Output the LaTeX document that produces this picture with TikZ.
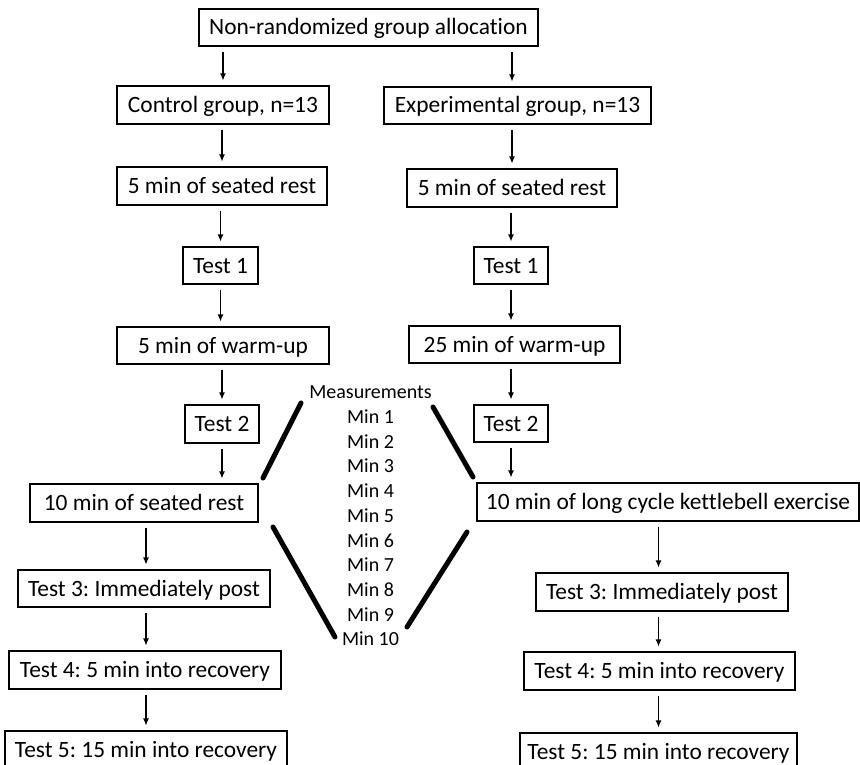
\documentclass[tikz,border=0pt]{standalone}
\usepackage{fontspec}
\setmainfont{Carlito}[Ligatures=NoCommon]
\frenchspacing
\usetikzlibrary{arrows.meta}
\begin{document}
\frenchspacing
\begin{tikzpicture}[x=1pt,y=-1pt,
  box/.style={draw, line width=1.1pt, inner sep=0pt, text height=15pt, text depth=0pt,
    font=\fontsize{23.4}{28}\selectfont\frenchspacing},
  arr/.style={-{Latex[length=7pt,width=6pt]}, line width=1.1pt, shorten <=5pt, shorten >=5pt},
  bar/.style={line width=5pt, line cap=round},
  meas/.style={align=center, inner sep=0pt, font=\fontsize{20}{24.7}\selectfont}
]
\useasboundingbox (0,0) rectangle (860,765);
% left column
\node[box, minimum width=339pt, minimum height=37pt] (top) at (368.5,27.5) {Non-randomized group allocation};
\node[box, minimum width=212pt, minimum height=38pt] (ctrl) at (223,105) {Control group, n=13};
\node[box, minimum width=210pt, minimum height=38pt] (restL) at (222,186) {5 min of seated rest};
\node[box, minimum width=75pt, minimum height=37pt] (testoneL) at (220.5,265.5) {Test 1};
\node[box, minimum width=212pt, minimum height=37pt] (warmL) at (223,345.5) {5 min of warm-up};
\node[box, minimum width=74pt, minimum height=38pt] (testtwoL) at (222,424) {Test 2};
\node[box, minimum width=228pt, minimum height=38pt] (seatL) at (144,503) {10 min of seated rest};
\node[box, minimum width=252pt, minimum height=37pt] (tthreeL) at (144,588.5) {Test 3: Immediately post};
\node[box, minimum width=272pt, minimum height=38pt] (tfourL) at (145,670) {Test 4: 5 min into recovery};
\node[box, minimum width=282pt, minimum height=38pt] (tfiveL) at (146,750) {Test 5: 15 min into recovery};
% right column
\node[box, minimum width=267pt, minimum height=37pt] (exp) at (517.5,105.5) {Experimental group, n=13};
\node[box, minimum width=210pt, minimum height=38pt] (restR) at (512,188) {5 min of seated rest};
\node[box, minimum width=74pt, minimum height=37pt] (testoneR) at (511,265.5) {Test 1};
\node[box, minimum width=211pt, minimum height=37pt] (warmR) at (514.5,344.5) {25 min of warm-up};
\node[box, minimum width=74pt, minimum height=37pt] (testtwoR) at (511,423.5) {Test 2};
\node[box, minimum width=382pt, minimum height=38pt] (kettle) at (668,502) {10 min of long cycle kettlebell exercise};
\node[box, minimum width=252pt, minimum height=38pt] (tthreeR) at (662,592) {Test 3: Immediately post};
\node[box, minimum width=271pt, minimum height=38pt] (tfourR) at (659.5,671) {Test 4: 5 min into recovery};
\node[box, minimum width=277pt, minimum height=38pt] (tfiveR) at (658.5,752) {Test 5: 15 min into recovery};
% measurements
\node[meas] (meas) at (370.5,516) {Measurements\\Min 1\\Min 2\\Min 3\\Min 4\\Min 5\\Min 6\\Min 7\\Min 8\\Min 9\\Min 10};
% arrows left
\draw[arr] (top.south -| ctrl.north) -- (ctrl.north);
\draw[arr] (ctrl.south -| restL.north) -- (restL.north);
\draw[arr] (restL.south -| testoneL.north) -- (testoneL.north);
\draw[arr] (testoneL.south) -- (testoneL.south |- warmL.north);
\draw[arr] (warmL.south -| testtwoL.north) -- (testtwoL.north);
\draw[arr] (testtwoL.south) -- (testtwoL.south |- seatL.north);
\draw[arr] (seatL.south -| tfiveL.north) -- (tthreeL.north -| tfiveL.north);
\draw[arr] (tthreeL.south -| tfiveL.north) -- (tfourL.north -| tfiveL.north);
\draw[arr] (tfourL.south -| tfiveL.north) -- (tfiveL.north);
% arrows right
\draw[arr] (top.south -| restR.north) -- (exp.north -| restR.north);
\draw[arr] (exp.south -| restR.north) -- (restR.north);
\draw[arr] (restR.south -| testoneR.north) -- (testoneR.north);
\draw[arr] (testoneR.south) -- (testoneR.south |- warmR.north);
\draw[arr] (warmR.south -| testtwoR.north) -- (testtwoR.north);
\draw[arr] (testtwoR.south) -- (testtwoR.south |- kettle.north);
\draw[arr] (kettle.south -| tfiveR.north) -- (tthreeR.north -| tfiveR.north);
\draw[arr] (tthreeR.south -| tfiveR.north) -- (tfourR.north -| tfiveR.north);
\draw[arr] (tfourR.south -| tfiveR.north) -- (tfiveR.north);
% thick bars
\coordinate (ula) at (301,403); \coordinate (ulb) at (263,478);
\coordinate (ura) at (433,407); \coordinate (urb) at (473,477);
\coordinate (lla) at (273,527); \coordinate (llb) at (335,637);
\coordinate (lra) at (467,532); \coordinate (lrb) at (407,627);
\draw[bar] (ula) -- (ulb);
\draw[bar] (ura) -- (urb);
\draw[bar] (lla) -- (llb);
\draw[bar] (lra) -- (lrb);
\end{tikzpicture}
\end{document}
